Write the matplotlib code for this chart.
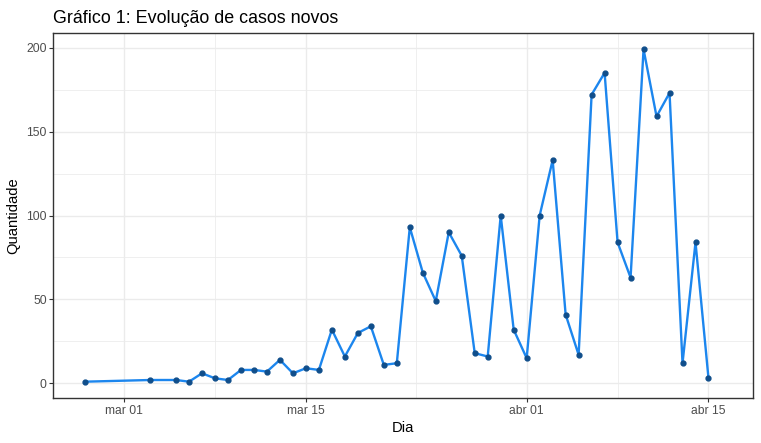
import matplotlib
matplotlib.use("Agg")
import matplotlib.pyplot as plt
import matplotlib.dates as mdates
import numpy as np
import datetime as dt

# ---- data ----
dates = ["2020-02-27", "2020-03-03", "2020-03-05", "2020-03-06", "2020-03-07",
         "2020-03-08", "2020-03-09", "2020-03-10", "2020-03-11", "2020-03-12",
         "2020-03-13", "2020-03-14", "2020-03-15", "2020-03-16", "2020-03-17",
         "2020-03-18", "2020-03-19", "2020-03-20", "2020-03-21", "2020-03-22",
         "2020-03-23", "2020-03-24", "2020-03-25", "2020-03-26", "2020-03-27",
         "2020-03-28", "2020-03-29", "2020-03-30", "2020-03-31", "2020-04-01",
         "2020-04-02", "2020-04-03", "2020-04-04", "2020-04-05", "2020-04-06",
         "2020-04-07", "2020-04-08", "2020-04-09", "2020-04-10", "2020-04-11",
         "2020-04-12", "2020-04-13", "2020-04-14", "2020-04-15"]
new_cases = [1, 2, 2, 1, 6,
             3, 2, 8, 8, 7,
             14, 6, 9, 8, 32,
             16, 30, 34, 11, 12,
             93, 66, 49, 90, 76,
             18, 16, 100, 32, 15,
             100, 133, 41, 17, 172,
             185, 84, 63, 199, 159,
             173, 12, 84, 3]
x_ticks = ["2020-03-01", "2020-03-15", "2020-04-01", "2020-04-15"]
x_tick_labels = ["mar 01", "mar 15", "abr 01", "abr 15"]
x_minor = ["2020-03-08", "2020-03-23 12:00", "2020-04-08"]
y_ticks = [0, 50, 100, 150, 200]
y_minor = [25, 75, 125, 175]

plt.rcParams['font.family'] = ['Liberation Sans', 'DejaVu Sans']

x = [dt.datetime.fromisoformat(d) for d in dates]
xn = mdates.date2num(x)

W, H = 761, 443
fig = plt.figure(figsize=(W / 100, H / 100), dpi=100)
L, R, T, B = 53.3, 753.3, 32.7, 398.3
ax = fig.add_axes([L / W, 1 - B / H, (R - L) / W, (B - T) / H])

grid_c = "#EBEBEB"
for v in y_minor:
    ax.axhline(v, color=grid_c, lw=0.55, zorder=0)
for v in y_ticks:
    ax.axhline(v, color=grid_c, lw=1.0, zorder=0)
for d in x_minor:
    ax.axvline(mdates.date2num(dt.datetime.fromisoformat(d)), color=grid_c, lw=0.55, zorder=0)
for d in x_ticks:
    ax.axvline(mdates.date2num(dt.datetime.fromisoformat(d)), color=grid_c, lw=1.0, zorder=0)

ax.plot(xn, new_cases, color="#1C86EE", lw=1.7, zorder=2, solid_capstyle='butt')
ax.plot(xn, new_cases, 'o', color="#104E8B", ms=3.5, zorder=3)

# ggplot-like expansion (data range extends to Apr 16)
x0 = mdates.date2num(dt.datetime(2020, 2, 27))
x1 = mdates.date2num(dt.datetime(2020, 4, 16))
span = x1 - x0
ax.set_xlim(x0 - 0.05 * span, x1 + 0.05 * span)
ymin, ymax = 1, 199
ys = ymax - ymin
ax.set_ylim(ymin - 0.05 * ys, ymax + 0.05 * ys)

ax.set_xticks([mdates.date2num(dt.datetime.fromisoformat(d)) for d in x_ticks])
ax.set_xticklabels(x_tick_labels)
ax.set_yticks(y_ticks)
ax.set_yticklabels([str(v) for v in y_ticks])

for s in ax.spines.values():
    s.set_color("#333333")
    s.set_linewidth(1.0)
ax.tick_params(axis='both', colors="#333333", length=2.7, width=0.8,
               labelsize=8.7, labelcolor="#4D4D4D", pad=2)

ax.set_xlabel("Dia", fontsize=10.6, color="black", labelpad=3)
ax.set_ylabel("Quantidade", fontsize=10.6, color="black", labelpad=4)

fig.text(L / W, 1 - 23.3 / H, "Gráfico 1: Evolução de casos novos",
         fontsize=12.9, color="black", ha='left', va='baseline')

fig.savefig("out.png", dpi=100)
